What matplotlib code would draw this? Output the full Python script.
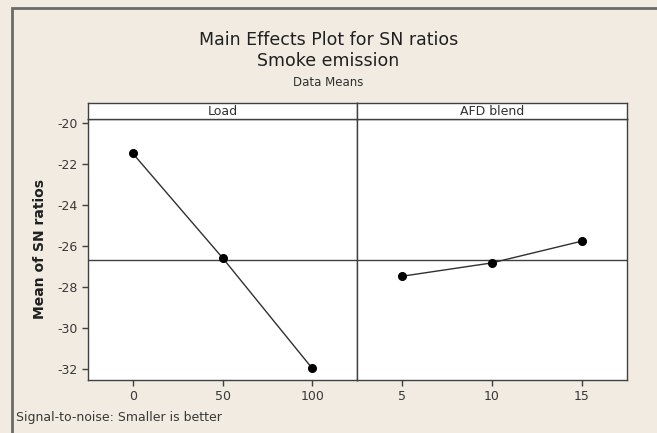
import matplotlib
matplotlib.use("Agg")
import matplotlib.pyplot as plt
from matplotlib.patches import Rectangle

# data
load_levels = [0, 50, 100]
load_sn = [-21.47, -26.56, -31.95]
afd_levels = [5, 10, 15]
afd_sn = [-27.46, -26.81, -25.75]
panel_names = ["Load", "AFD blend"]
y_ticks = [-20, -22, -24, -26, -28, -30, -32]

grand_mean = (sum(load_sn) + sum(afd_sn)) / 6.0

bg = "#f1ebe1"
edge = "#404040"
plt.rcParams['font.family'] = ['DejaVu Sans']
plt.rcParams['axes.unicode_minus'] = False

fig = plt.figure(figsize=(6.57, 4.33), dpi=100, facecolor=bg)

# outer frame like the Minitab window
fig.patches.append(Rectangle((11.5 / 657, -0.05), 1.0, 1.05 - 7.5 / 433,
                             transform=fig.transFigure, fill=False,
                             edgecolor="#6b6b6b", linewidth=2))

W, H = 657.0, 433.0
x0, xm, x1 = 88, 357, 626.5
yb, yt, ys = 380, 119, 103

ax1 = fig.add_axes([x0 / W, 1 - yb / H, (xm - x0) / W, (yb - yt) / H])
ax2 = fig.add_axes([xm / W, 1 - yb / H, (x1 - xm) / W, (yb - yt) / H], sharey=ax1)

panels = [(ax1, load_levels, load_sn, (-25, 125)),
          (ax2, afd_levels, afd_sn, (2.5, 17.5))]
for ax, xs, ys_, lim in panels:
    ax.set_facecolor("white")
    ax.axhline(grand_mean, color=edge, linewidth=1, zorder=1)
    ax.plot(xs, ys_, color="#303030", linewidth=1, marker="o",
            markersize=5.5, markerfacecolor="black", markeredgecolor="black", zorder=3)
    ax.set_xlim(*lim)
    ax.set_xticks(xs)
    ax.set_ylim(-32.52, -19.79)
    for s in ax.spines.values():
        s.set_color(edge)
        s.set_linewidth(1)
    ax.tick_params(axis='both', direction='out', length=4, width=1,
                   color=edge, labelsize=9, labelcolor="#383838")

ax1.set_yticks(y_ticks)
ax2.tick_params(axis='y', left=False, labelleft=False)
ax1.set_ylabel("Mean of SN ratios", fontsize=10, fontweight='bold',
               color="#202020", labelpad=7)

# strips on top of each panel
for (xa, xb), name in zip([(x0, xm), (xm, x1)], panel_names):
    sax = fig.add_axes([xa / W, 1 - yt / H, (xb - xa) / W, (yt - ys) / H])
    sax.set_facecolor("white")
    sax.set_xticks([])
    sax.set_yticks([])
    for s in sax.spines.values():
        s.set_color(edge)
        s.set_linewidth(1)
    sax.text(0.5, 0.45, name, ha='center', va='center', fontsize=9,
             color="#303030", transform=sax.transAxes)

fig.text(0.5, 1 - 40 / H, "Main Effects Plot for SN ratios", ha='center',
         va='center', fontsize=12.5, color="#202020")
fig.text(0.5, 1 - 61 / H, "Smoke emission", ha='center', va='center',
         fontsize=12.5, color="#202020")
fig.text(0.5, 1 - 82 / H, "Data Means", ha='center', va='center',
         fontsize=8.5, color="#303030")
fig.text(16 / W, 1 - 418 / H, "Signal-to-noise: Smaller is better",
         ha='left', va='center', fontsize=9, color="#383838")

fig.savefig("out.png", dpi=100, facecolor=bg)
